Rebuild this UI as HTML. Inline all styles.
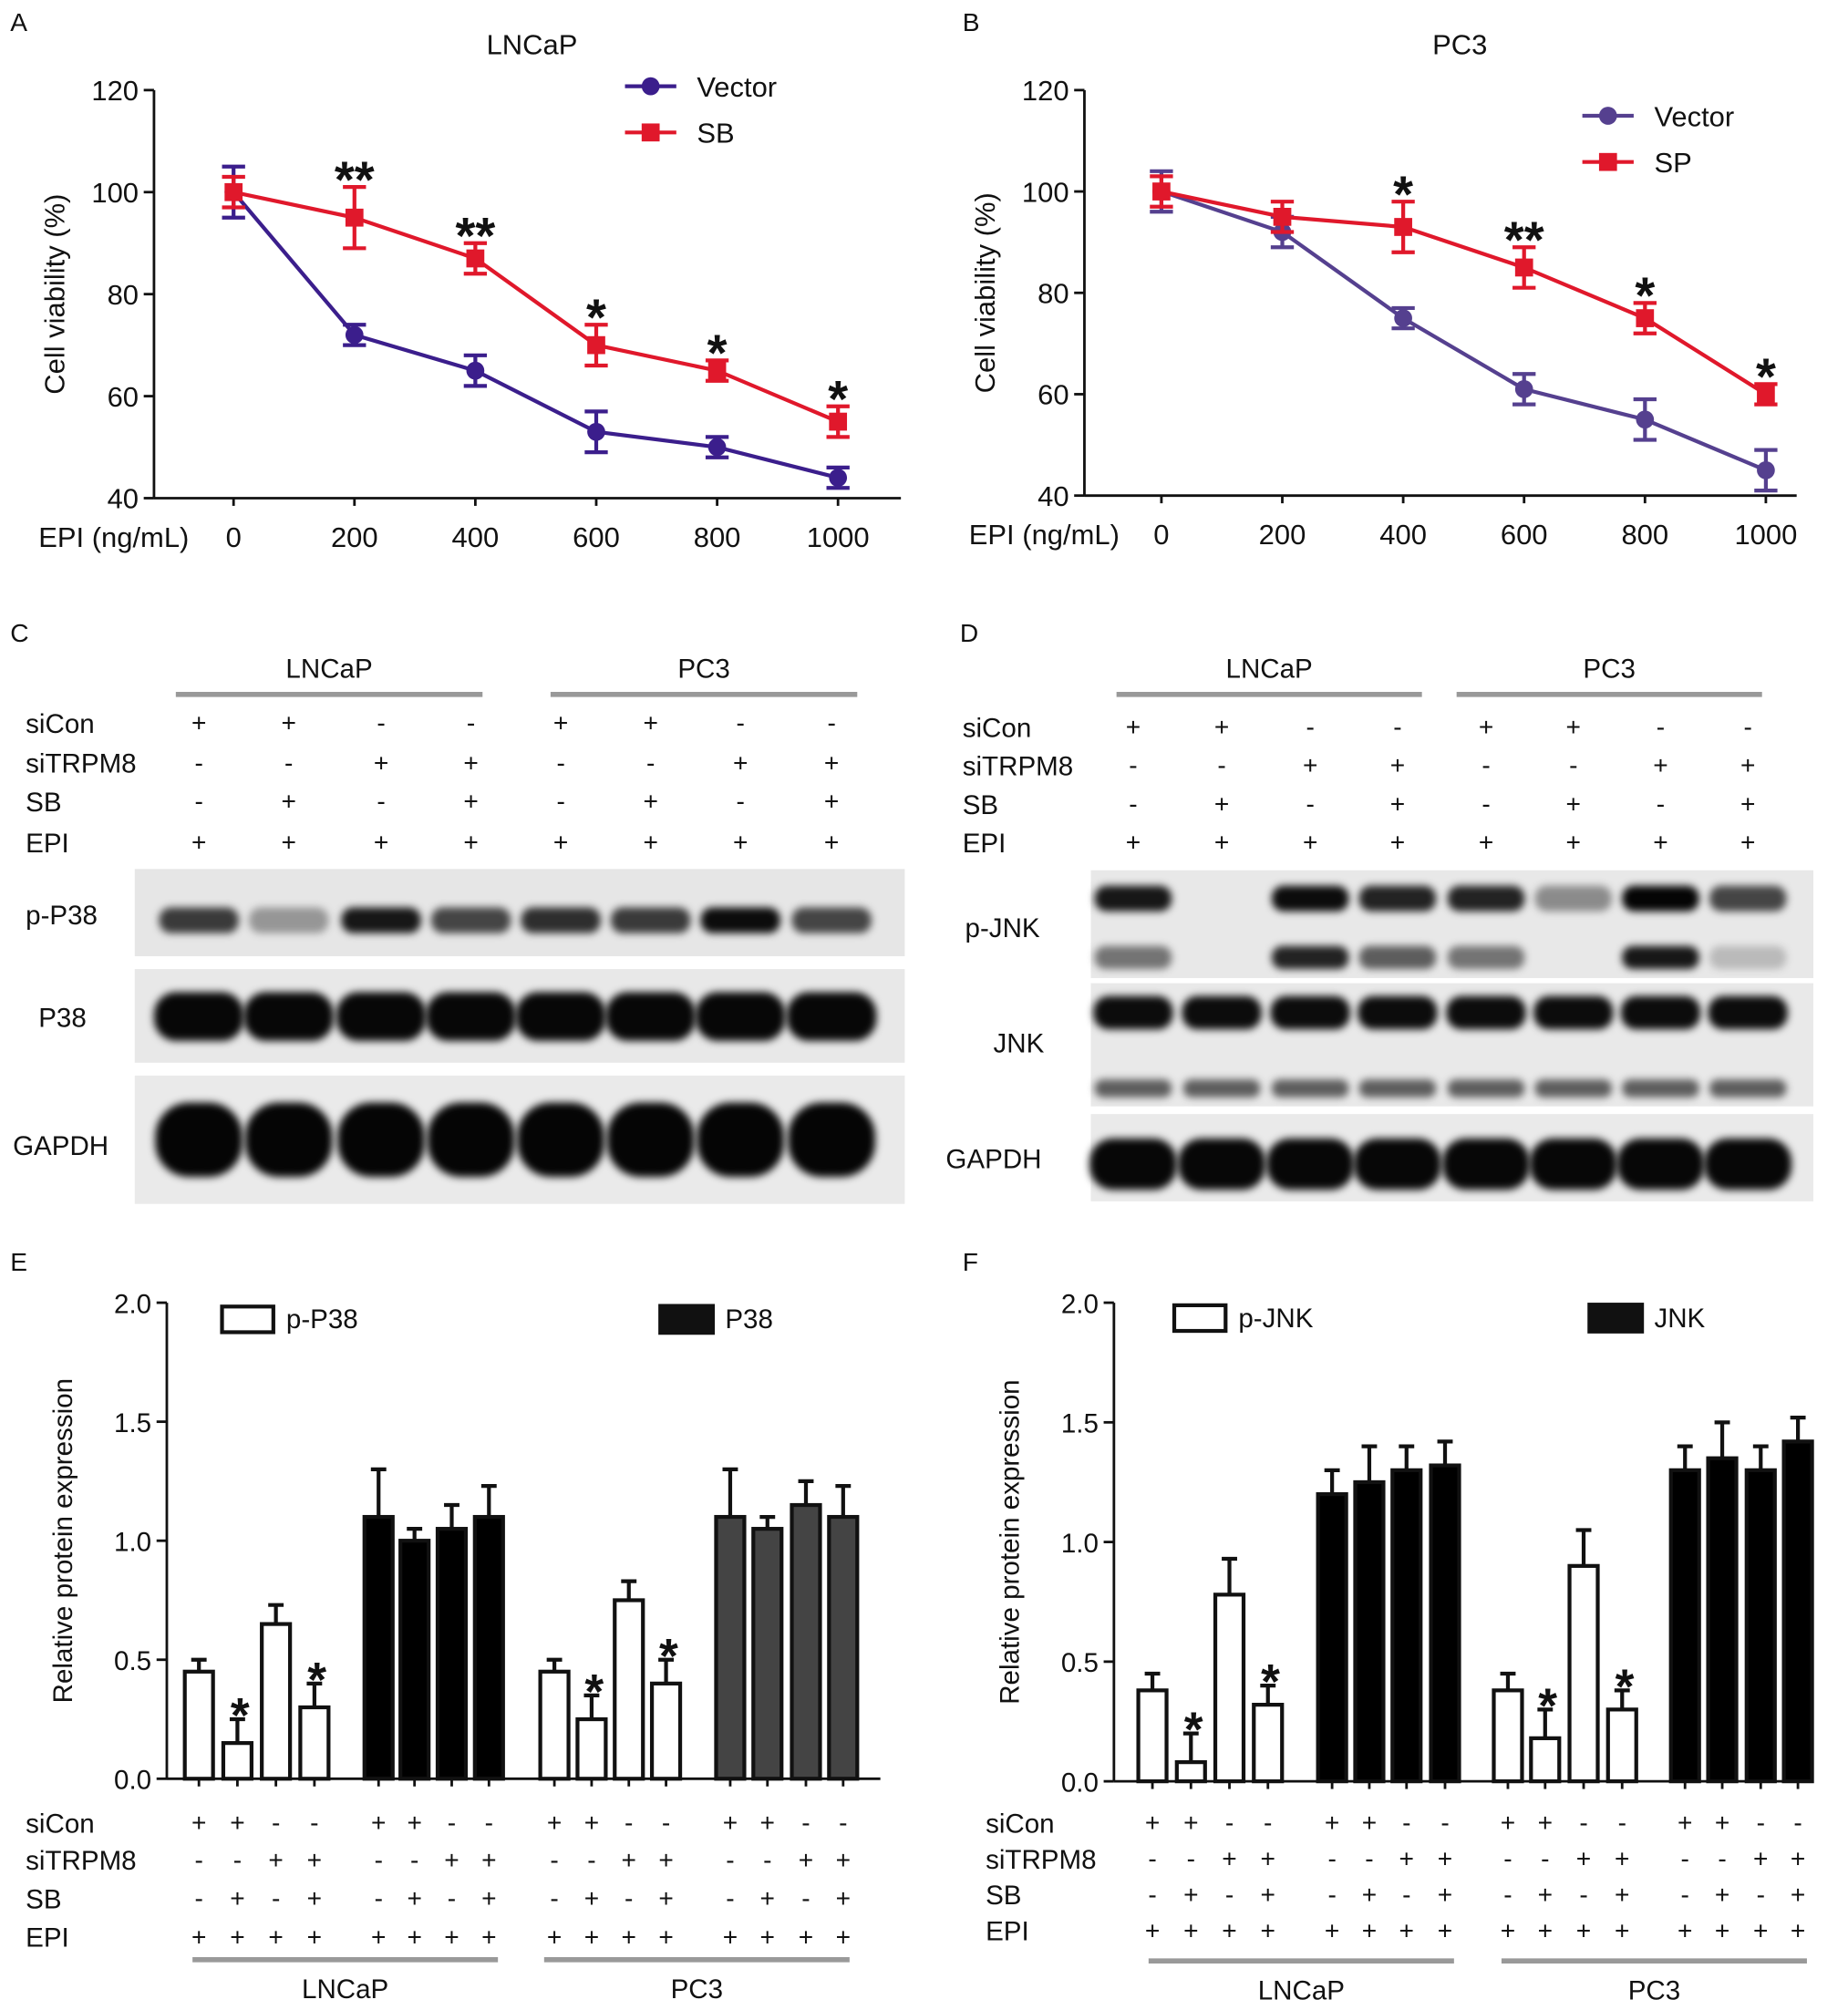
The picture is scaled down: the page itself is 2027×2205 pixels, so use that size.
<!DOCTYPE html>
<html><head><meta charset="utf-8"><style>
html,body{margin:0;padding:0;background:#fff;}
svg{display:block;font-family:"Liberation Sans",Arial,sans-serif;}
</style></head><body>
<svg id="fig" width="2027" height="2205" viewBox="0 0 1440 1566" xmlns="http://www.w3.org/2000/svg">
<defs><filter id="blur" x="-20%" y="-50%" width="140%" height="200%"><feGaussianBlur stdDeviation="3"/></filter></defs>
</svg>
<script>
// ---- Data ----
const doseCats=[0,200,400,600,800,1000];
const aVector=[100,72,65,53,50,44];
const aVectorErr=[5,2,3,4,2,2];
const aSB=[100,95,87,70,65,55];
const aSBErr=[3,6,3,4,2,3];
const aStars=["","**","**","*","*","*"];
const bVector=[100,92,75,61,55,45];
const bVectorErr=[4,3,2,3,4,4];
const bSP=[100,95,93,85,75,60];
const bSPErr=[3,3,5,4,3,2];
const bStars=["","","*","**","*","*"];
const viabTicks=[40,60,80,100,120];
const eOpenL=[0.45,0.15,0.65,0.30], eOpenLErr=[0.05,0.10,0.08,0.10];
const eTotL=[1.10,1.00,1.05,1.10], eTotLErr=[0.20,0.05,0.10,0.13];
const eOpenP=[0.45,0.25,0.75,0.40], eOpenPErr=[0.05,0.10,0.08,0.10];
const eTotP=[1.10,1.05,1.15,1.10], eTotPErr=[0.20,0.05,0.10,0.13];
const fOpenL=[0.38,0.08,0.78,0.32], fOpenLErr=[0.07,0.12,0.15,0.08];
const fTotL=[1.20,1.25,1.30,1.32], fTotLErr=[0.10,0.15,0.10,0.10];
const fOpenP=[0.38,0.18,0.90,0.30], fOpenPErr=[0.07,0.12,0.15,0.08];
const fTotP=[1.30,1.35,1.30,1.42], fTotLErrP=[0.10,0.15,0.10,0.10];
const barStars=["","*","","*"];
const expTicks=[0,0.5,1.0,1.5,2.0];
const signRows=["siCon","siTRPM8","SB","EPI"];
const signs=[["+","+","-","-"],["-","-","+","+"],["-","+","-","+"],["+","+","+","+"]];

const svg=document.getElementById('fig');
const NS="http://www.w3.org/2000/svg";
function el(tag,attrs,parent,text){const e=document.createElementNS(NS,tag);for(const k in attrs)e.setAttribute(k,attrs[k]);if(text!==undefined)e.textContent=text;(parent||svg).appendChild(e);return e;}
function txt(x,y,s,size,anchor,name,extra){const t=el('text',Object.assign({x:x,y:y,'font-size':size,'text-anchor':anchor||'start',fill:'#111'},extra||{}),null,s);

return t;}

[["A",8,24],["B",750,24],["C",8,500],["D",748,500],["E",8,990],["F",750,990]].forEach(p=>txt(p[1],p[2],p[0],20,'start','panel-label-'+p[0].toLowerCase()));

function lineChart(o){
  const X=v=>o.x0+(v/1000)*(o.x1-o.x0);
  const Y=v=>o.yb+(v-40)/80*(o.yt-o.yb);
  const g=el('g',{});
  
  
  el('line',{x1:o.ax,y1:o.yt,x2:o.ax,y2:o.yb,stroke:'#111','stroke-width':2},g);
  el('line',{x1:o.ax,y1:o.yb,x2:o.axEnd,y2:o.yb,stroke:'#111','stroke-width':2},g);
  viabTicks.forEach(t=>{el('line',{x1:o.ax-8,y1:Y(t),x2:o.ax,y2:Y(t),stroke:'#111','stroke-width':2},g);txt(o.ax-12,Y(t)+8,String(t),22,'end','y-tick-label');});
  doseCats.forEach(d=>{el('line',{x1:X(d),y1:o.yb,x2:X(d),y2:o.yb+6,stroke:'#111','stroke-width':2},g);txt(X(d),o.yb+38,String(d),22,'middle','x-tick-label');});
  txt(o.ax-90,o.yb+38,"EPI (ng/mL)",22,'start','x-axis-title');
  txt(0,0,"Cell viability (%)",22,'middle','y-axis-title',{transform:`translate(${o.ax-70},${(o.yt+o.yb)/2}) rotate(-90)`});
  txt((o.x0+o.x1)/2-3,o.yt-28,o.title,22,'middle','chart-title');
  o.series.forEach(s=>{
    const pts=s.v.map((v,i)=>X(doseCats[i])+','+Y(v)).join(' ');
    const pl=el('polyline',{points:pts,fill:'none',stroke:s.c,'stroke-width':3},g);
    
    s.v.forEach((v,i)=>{const x=X(doseCats[i]);
      el('line',{x1:x,y1:Y(v+s.e[i]),x2:x,y2:Y(v-s.e[i]),stroke:s.c,'stroke-width':3},g);
      el('line',{x1:x-9,y1:Y(v+s.e[i]),x2:x+9,y2:Y(v+s.e[i]),stroke:s.c,'stroke-width':3},g);
      el('line',{x1:x-9,y1:Y(v-s.e[i]),x2:x+9,y2:Y(v-s.e[i]),stroke:s.c,'stroke-width':3},g);
      let m;
      if(s.shape==='c') m=el('circle',{cx:x,cy:Y(v),r:7,fill:s.c},g);
      else m=el('rect',{x:x-7,y:Y(v)-7,width:14,height:14,fill:s.c},g);
      
      
    });
  });
  const top=o.series[1];
  o.stars.forEach((s,i)=>{if(s)txt(X(doseCats[i]),Y(top.v[i]+top.e[i])+8,s,40,'middle','significance-star',{'font-weight':'bold'});});
  o.series.forEach((s,k)=>{const ly=o.ly+k*36;
    el('line',{x1:o.lx,y1:ly,x2:o.lx+40,y2:ly,stroke:s.c,'stroke-width':3},g);
    if(s.shape==='c') el('circle',{cx:o.lx+20,cy:ly,r:7,fill:s.c},g); else el('rect',{x:o.lx+13,y:ly-7,width:14,height:14,fill:s.c},g);
    txt(o.lx+56,ly+8,s.n,22,'start','legend-entry');});
}
const PUR='#3b1e8c',RED='#e0182b';
lineChart({name:'chart-a-lncap',ax:120,axEnd:702,x0:182,x1:653,yt:70,yb:388,title:'LNCaP',lx:487,ly:67,stars:aStars,
 series:[{n:'Vector',v:aVector,e:aVectorErr,c:PUR,shape:'c'},{n:'SB',v:aSB,e:aSBErr,c:RED,shape:'s'}]});
lineChart({name:'chart-b-pc3',ax:845,axEnd:1400,x0:905,x1:1376,yt:70,yb:386,title:'PC3',lx:1233,ly:90,stars:bStars,
 series:[{n:'Vector',v:bVector,e:bVectorErr,c:'#55408f',shape:'c'},{n:'SP',v:bSP,e:bSPErr,c:RED,shape:'s'}]});

function signTable(lx,lanes,rowsY,name){
  signRows.forEach((r,ri)=>{txt(lx,rowsY[ri]+8,r,21,'start',name+'-row-label');
    lanes.forEach((x,li)=>txt(x,rowsY[ri]+7,signs[ri][li%4],20,'middle',name+'-sign'));});
}
function groupBar(x1,x2,y,label,ly,name){el('line',{x1:x1,y1:y,x2:x2,y2:y,stroke:'#999','stroke-width':4});txt((x1+x2)/2,ly,label,21,'middle',name);}

function blot(x,y,w,h,bg,name){const r=el('rect',{x:x,y:y,width:w,height:h,fill:bg});}
function band(cx,cy,w,h,op){el('rect',{x:cx-w/2,y:cy-h/2,width:w,height:h,rx:h/2.2,ry:h/2.2,fill:'#000','fill-opacity':op,filter:'url(#blur)'});}
const lanesC=[155,225,297,367,437,507,577,648];
const lanesD=[883,952,1021,1089,1158,1226,1294,1362];
groupBar(137,376,541,'LNCaP',528,'group-label');groupBar(429,668,541,'PC3',528,'group-label');
signTable(20,lanesC,[563,594,624,656],'table-c');
blot(105,677,600,68,'#e6e6e6','blot-p-p38');blot(105,755,600,73,'#e8e8e8','blot-p38');blot(105,838,600,100,'#eaeaea','blot-gapdh-c');
const cP=[0.75,0.35,0.9,0.7,0.8,0.75,0.95,0.7];
lanesC.forEach((x,i)=>{band(x,717,62,20,cP[i]);band(x,792,70,38,0.97);band(x,888,68,58,0.98);});
txt(20,720,'p-P38',21,'start','blot-label');txt(30,800,'P38',21,'start','blot-label');txt(10,900,'GAPDH',21,'start','blot-label');
groupBar(870,1108,541,'LNCaP',528,'group-label');groupBar(1135,1373,541,'PC3',528,'group-label');
signTable(750,lanesD,[566,596,626,656],'table-d');
blot(850,678,563,84,'#e8e8e8','blot-p-jnk');blot(850,766,563,96,'#e9e9e9','blot-jnk');blot(850,868,563,68,'#eaeaea','blot-gapdh-d');
const dUp=[0.9,0,0.95,0.85,0.85,0.4,0.98,0.7],dLo=[0.5,0,0.85,0.6,0.5,0,0.9,0.2];
lanesD.forEach((x,i)=>{if(dUp[i])band(x,700,60,20,dUp[i]);if(dLo[i])band(x,746,60,18,dLo[i]);band(x,789,62,26,0.95);band(x,848,60,14,0.6);band(x,907,68,40,0.97);});
txt(752,730,'p-JNK',21,'start','blot-label');txt(774,820,'JNK',21,'start','blot-label');txt(737,910,'GAPDH',21,'start','blot-label');

function barChart(o){
  const Y=v=>o.y0+v/2*(o.y2-o.y0);
  const g=el('g',{});
  
  
  el('line',{x1:o.ax,y1:o.y2,x2:o.ax,y2:o.y0,stroke:'#111','stroke-width':2},g);
  el('line',{x1:o.ax,y1:o.y0,x2:o.axEnd,y2:o.y0,stroke:'#111','stroke-width':2},g);
  expTicks.forEach(t=>{el('line',{x1:o.ax-8,y1:Y(t),x2:o.ax,y2:Y(t),stroke:'#111','stroke-width':2},g);txt(o.ax-12,Y(t)+8,t.toFixed(1),21,'end','y-tick-label');});
  txt(0,0,'Relative protein expression',21,'middle','y-axis-title',{transform:`translate(${o.ax-74},${(o.y0+o.y2)/2}) rotate(-90)`});
  const allX=[];
  o.groups.forEach(gr=>{gr.v.forEach((v,i)=>{const x=gr.x[i];allX.push(x);
    el('line',{x1:x,y1:Y(v),x2:x,y2:Y(v+gr.e[i]),stroke:'#111','stroke-width':3},g);
    el('line',{x1:x-6,y1:Y(v+gr.e[i]),x2:x+6,y2:Y(v+gr.e[i]),stroke:'#111','stroke-width':3},g);
    const b=el('rect',{x:x-11,y:Y(v),width:22,height:Y(0)-Y(v),fill:gr.fill,stroke:'#111','stroke-width':3},g);
    
    
    if(gr.stars&&barStars[i])txt(x+2,Y(v+gr.e[i])+10,barStars[i],38,'middle','significance-star',{'font-weight':'bold'});
    el('line',{x1:x,y1:o.y0,x2:x,y2:o.y0+6,stroke:'#111','stroke-width':2},g);
  });});
  el('rect',{x:o.l1,y:o.ly-9,width:40,height:20,fill:'#fff',stroke:'#111','stroke-width':3},g);
  txt(o.l1+50,o.ly+8,o.n1,21,'start','legend-entry');
  el('rect',{x:o.l2,y:o.ly-11,width:44,height:24,fill:'#111'},g);
  txt(o.l2+52,o.ly+8,o.n2,21,'start','legend-entry');
  signTable(o.tx,allX,o.rows,o.name+'-table');
  groupBar(o.g1[0],o.g1[1],o.gy,'LNCaP',o.gy+30,'group-label');
  groupBar(o.g2[0],o.g2[1],o.gy,'PC3',o.gy+30,'group-label');
}
barChart({name:'chart-e',ax:130,axEnd:686,y0:1386,y2:1015,l1:173,l2:513,ly:1027,n1:'p-P38',n2:'P38',tx:20,rows:[1420,1449,1479,1509],gy:1527,g1:[150,388],g2:[424,662],
 groups:[{x:[155,185,215,245],v:eOpenL,e:eOpenLErr,fill:'#fff',stars:true},{x:[295,323,352,381],v:eTotL,e:eTotLErr,fill:'#000'},
 {x:[432,461,490,519],v:eOpenP,e:eOpenPErr,fill:'#fff',stars:true},{x:[569,598,628,657],v:eTotP,e:eTotPErr,fill:'#444'}]});
barChart({name:'chart-f',ax:868,axEnd:1412,y0:1388,y2:1015,l1:915,l2:1237,ly:1026,n1:'p-JNK',n2:'JNK',tx:768,rows:[1420,1448,1476,1504],gy:1528,g1:[895,1133],g2:[1170,1408],
 groups:[{x:[898,928,958,988],v:fOpenL,e:fOpenLErr,fill:'#fff',stars:true},{x:[1038,1067,1096,1126],v:fTotL,e:fTotLErr,fill:'#000'},
 {x:[1175,1204,1234,1264],v:fOpenP,e:fOpenPErr,fill:'#fff',stars:true},{x:[1313,1342,1372,1401],v:fTotP,e:fTotLErrP,fill:'#000'}]});
</script>
</body></html>
